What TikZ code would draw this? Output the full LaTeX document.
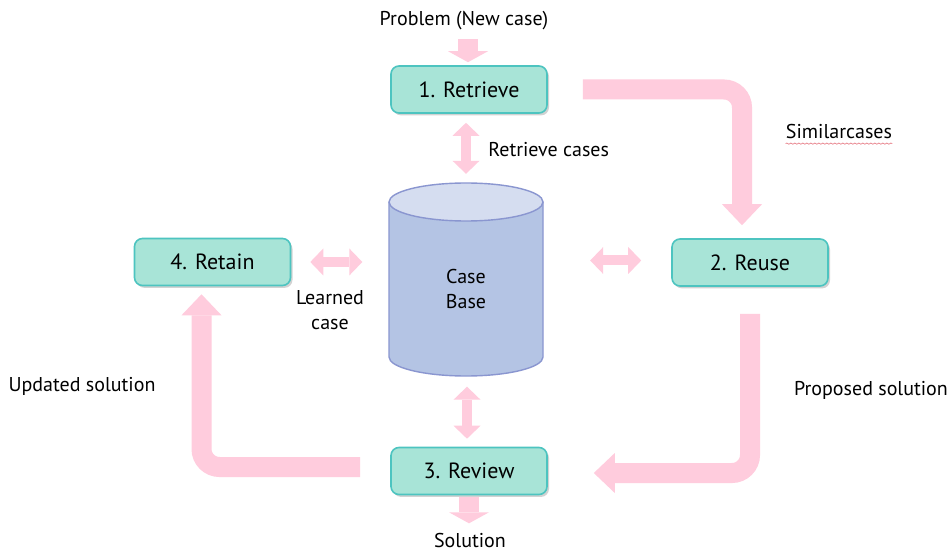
\documentclass[tikz,border=0pt]{standalone}
\usepackage{fontspec}
\setmainfont{PT Sans}
\usetikzlibrary{arrows.meta,shadows,decorations.pathmorphing}
\definecolor{flowpink}{RGB}{255,204,221}
\definecolor{boxfill}{RGB}{168,228,215}
\definecolor{boxline}{RGB}{77,196,192}
\definecolor{cylside}{RGB}{180,196,228}
\definecolor{cyltop}{RGB}{213,221,240}
\definecolor{cylline}{RGB}{138,150,208}
\definecolor{spellred}{RGB}{232,130,140}
\begin{document}
\begin{tikzpicture}[x=0.5pt,y=-0.5pt,
  stage/.style={draw=boxline, line width=0.8pt, fill=boxfill, rounded corners=4pt,
    minimum width=78pt, minimum height=23.5pt, inner sep=0pt,
    font=\fontsize{11}{12}\selectfont,
    drop shadow={shadow xshift=1pt, shadow yshift=-1.2pt, opacity=0.35, fill=black!50}},
  lbl/.style={font=\fontsize{10}{12.5}\selectfont, inner sep=0pt, align=center},
  flow/.style={draw=flowpink, line width=10pt, rounded corners=9pt,
    -{Triangle[length=10.5pt,width=20pt,line width=0pt]}},
  feed/.style={draw=flowpink, line width=10pt,
    -{Triangle[length=5.5pt,width=20pt,line width=0pt]}},
  link/.style={draw=flowpink, line width=5pt,
    {Triangle[length=6.5pt,width=13.5pt,line width=0pt]}-{Triangle[length=6.5pt,width=13.5pt,line width=0pt]}},
]
\fill[white] (0,0) rectangle (951,550);
\useasboundingbox (0,0) rectangle (951,550);

% case base cylinder
\fill[cylside] (389,202) -- (389,357)
  arc[start angle=180, end angle=0, x radius=77, y radius=19] -- (543,202) -- cycle;
\draw[cylline, line width=0.7pt] (389,202) -- (389,357)
  arc[start angle=180, end angle=0, x radius=77, y radius=19] -- (543,202);
\draw[cylline, line width=0.7pt, fill=cyltop] (466,202) ellipse [x radius=77, y radius=19];
\node[lbl] (cb) at (466,288.5) {Case\\Base};

% the four stages
\node[stage] (ret) at (469,89.5) {1. Retrieve};
\node[stage] (reu) at (750,262.5) {2. Reuse};
\node[stage] (rev) at (469,471) {3. Review};
\node[stage] (rta) at (212.5,262) {4. Retain};

% cycle arrows
\draw[flow] ([xshift=17.5pt]ret.east) -| ([xshift=-4pt,yshift=6.5pt]reu.north);
\draw[flow] ([yshift=-13.5pt]reu.south) |- ([xshift=23pt,yshift=-1pt]rev.east);
\draw[flow] ([xshift=-15pt,yshift=2pt]rev.west) -| ([xshift=-5.5pt,yshift=-4pt]rta.south);

% input and output
\draw[feed] ([xshift=-0.5pt,yshift=13pt]ret.north) -- ([xshift=-0.5pt,yshift=1.5pt]ret.north);
\draw[feed] ([yshift=-1pt]rev.south) -- ([yshift=-14pt]rev.south);

% exchanges with the case base
\draw[link] ([xshift=-1.5pt,yshift=-4.5pt]ret.south) -- ([xshift=-1.5pt,yshift=-30pt]ret.south);
\draw[link] ([xshift=-1pt,yshift=4pt]rev.north) -- ([xshift=-1pt,yshift=30pt]rev.north);
\draw[link] ([xshift=9.5pt]rta.east) -- ([xshift=35.5pt]rta.east);
\draw[link] ([xshift=-15pt,yshift=1pt]reu.west) -- ([xshift=-40.5pt,yshift=1pt]reu.west);

% labels
\node[lbl] (prob) at (464,21) {Problem (New case)};
\node[lbl, anchor=west] (rcases) at (488,150) {Retrieve cases};
\node[lbl] (sim) at (839,132) {Similarcases};
\draw[spellred, line width=0.35pt, decorate,
  decoration={snake, amplitude=0.3pt, segment length=2pt}]
  ([yshift=-2pt]sim.south west) -- ([yshift=-2pt]sim.south east);
\node[lbl] (learn) at (330,310.5) {Learned\\case};
\node[lbl] (upd) at (82,386) {Updated solution};
\node[lbl] (prop) at (871,390) {Proposed solution};
\node[lbl] (sol) at (470,540) {Solution};
\end{tikzpicture}
\end{document}
